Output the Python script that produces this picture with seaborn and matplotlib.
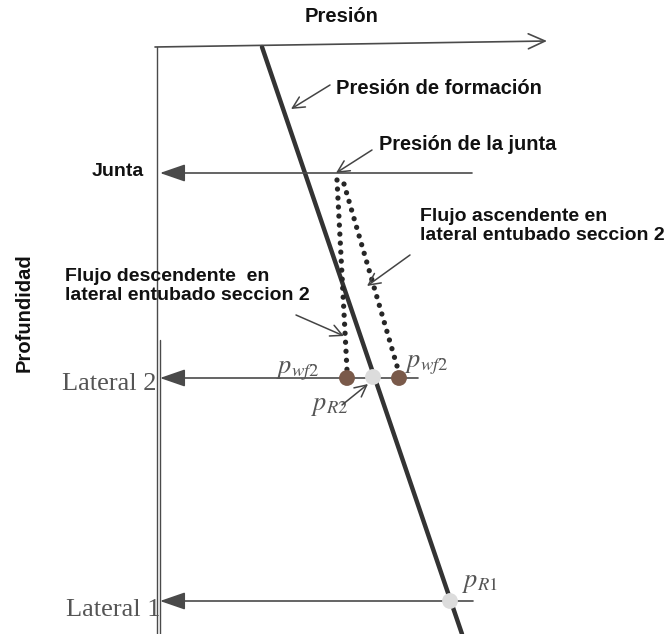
import matplotlib
matplotlib.use("Agg")
import matplotlib.pyplot as plt
import seaborn as sns
import pandas as pd

sns.set_theme(style="white")
plt.rcParams["font.family"] = ["Liberation Sans", "DejaVu Sans"]
plt.rcParams["mathtext.fontset"] = "stix"

# ---- schematic data (pressure = x, depth = y, in drawing units) ----
formation_pressure = [262, 462]
formation_depth = [47, 634]

desc_pressure = [337, 347]
desc_depth = [180, 370]
asc_pressure = [344, 397]
asc_depth = [184, 366]

point_pressure = [347, 373, 399, 450]
point_depth = [378, 377, 378, 601]
point_kind = ["pwf", "pR", "pwf", "pR"]

level_names = ["Junta", "Lateral 2", "Lateral 1"]
level_depth = [173, 378, 601]
level_right = [472, 418, 473]

fig = plt.figure(figsize=(6.67, 6.34), dpi=100)
ax = fig.add_axes([0, 0, 1, 1])
ax.set_xlim(0, 667)
ax.set_ylim(634, 0)
ax.axis("off")

axis_col = "#4a4a4a"
bold_col = "#111111"

# axes of the diagram
ax.annotate("", xy=(547, 41), xytext=(155, 47),
            arrowprops=dict(arrowstyle="->,head_length=1.0,head_width=0.45",
                            color=axis_col, lw=1.2, shrinkA=0, shrinkB=0))
ax.plot([157, 157], [47, 634], color=axis_col, lw=1.0)
ax.plot([160, 160], [340, 634], color=axis_col, lw=1.0)

# formation pressure line
df_f = pd.DataFrame({"p": formation_pressure, "d": formation_depth})
sns.lineplot(data=df_f, x="p", y="d", ax=ax, color="#333333", lw=3.2, sort=False)

# dotted flow lines
for pp, dd in ((desc_pressure, desc_depth), (asc_pressure, asc_depth)):
    ax.plot(pp, dd, color="#262626", lw=3.8, linestyle=(0, (0.01, 1.7)),
            dash_capstyle="round")

# level lines with filled arrowheads
for name, d, r in zip(level_names, level_depth, level_right):
    ax.annotate("", xy=(160, d), xytext=(r, d),
                arrowprops=dict(arrowstyle="-|>,head_length=1.3,head_width=0.45",
                                color=axis_col, lw=1.2, shrinkA=0, shrinkB=0))

ax.text(144, 172, "Junta", ha="right", va="center", fontsize=14,
        fontweight="bold", color=bold_col)
ax.text(157, 384, "Lateral 2", ha="right", va="center", fontsize=19,
        family="Liberation Serif", color="#555555")
ax.text(160, 610, "Lateral 1", ha="right", va="center", fontsize=19,
        family="Liberation Serif", color="#555555")

# points
df_p = pd.DataFrame({"p": point_pressure, "d": point_depth, "k": point_kind})
sns.scatterplot(data=df_p, x="p", y="d", hue="k", ax=ax,
                palette={"pwf": "#7a5a4a", "pR": "#dcdcdc"}, s=130,
                edgecolor="none", legend=False, zorder=5)

# labels
ax.text(342, 17, "Presión", ha="center", va="center", fontsize=14.5,
        fontweight="bold", color=bold_col)
ax.text(24, 313, "Profundidad", ha="center", va="center", rotation=90,
        fontsize=14.5, fontweight="bold", color=bold_col)
ax.text(336, 89, "Presión de formación", ha="left", va="center",
        fontsize=14.5, fontweight="bold", color=bold_col)
ax.text(379, 145, "Presión de la junta", ha="left", va="center",
        fontsize=14.4, fontweight="bold", color=bold_col)
ax.text(420, 226, "Flujo ascendente en\nlateral entubado seccion 2",
        ha="left", va="center", fontsize=14, fontweight="bold",
        color=bold_col, linespacing=1.15)
ax.text(65, 286, "Flujo descendente  en\nlateral entubado seccion 2",
        ha="left", va="center", fontsize=14, fontweight="bold",
        color=bold_col, linespacing=1.15)

serif_col = "#555555"
ax.text(276, 371, r"$p_{wf2}$", ha="left", va="center", fontsize=19,
        color=serif_col)
ax.text(405, 365, r"$p_{wf2}$", ha="left", va="center", fontsize=19,
        color=serif_col)
ax.text(311, 406, r"$p_{R2}$", ha="left", va="center", fontsize=19,
        color=serif_col)
ax.text(462, 583, r"$p_{R1}$", ha="left", va="center", fontsize=19,
        color=serif_col)

# pointer arrows
ptr = dict(arrowstyle="->,head_length=0.7,head_width=0.35", color="#444444",
           lw=1.1, shrinkA=0, shrinkB=0)
ax.annotate("", xy=(291, 109), xytext=(330, 85), arrowprops=ptr)
ax.annotate("", xy=(336, 173), xytext=(372, 150), arrowprops=ptr)
ax.annotate("", xy=(367, 286), xytext=(410, 255), arrowprops=ptr)
ax.annotate("", xy=(344, 336), xytext=(296, 315), arrowprops=ptr)
ax.annotate("", xy=(368, 384), xytext=(342, 405), arrowprops=ptr)

fig.savefig("out.png", dpi=100)
